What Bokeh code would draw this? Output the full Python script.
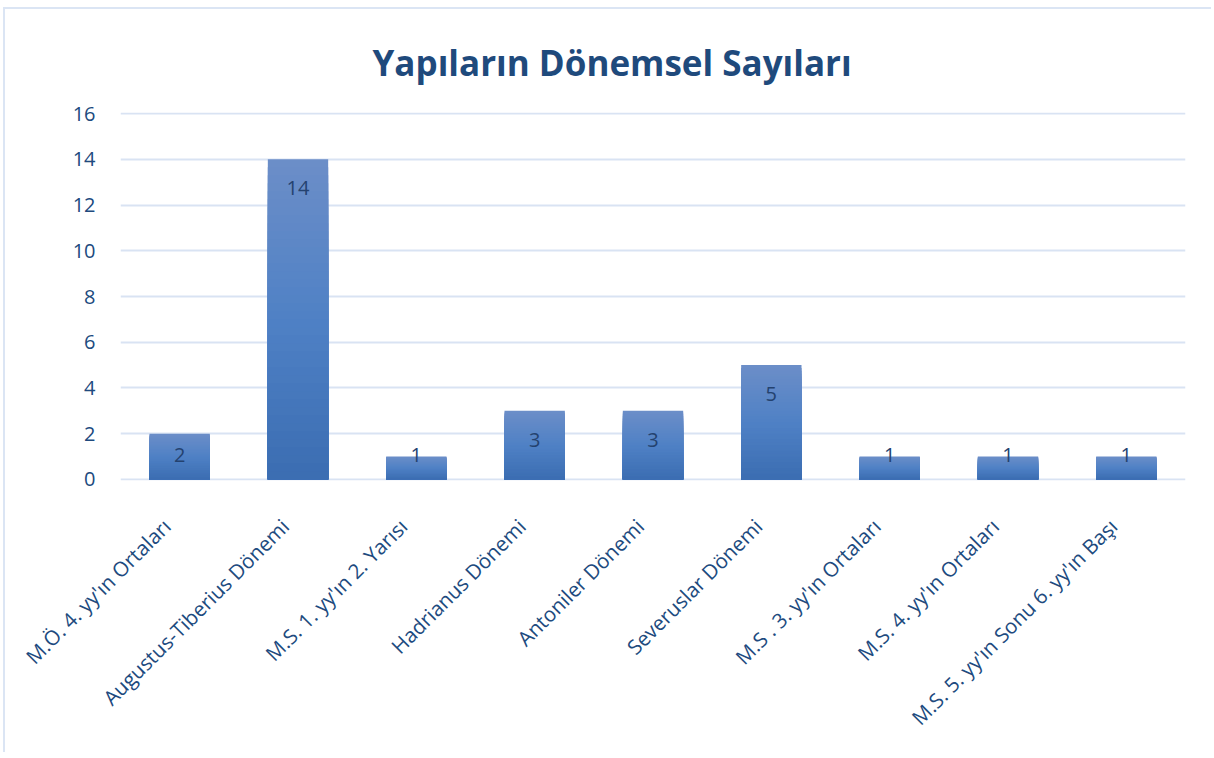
import numpy as np
from bokeh.plotting import figure
from bokeh.models import Range1d, FixedTicker
from bokeh.embed import file_html
from bokeh.resources import INLINE
from bokeh.core.properties import value

# ---- data ----
categories = [
    "M.Ö. 4. yy'ın Ortaları",
    "Augustus-Tiberius Dönemi",
    "M.S. 1. yy'ın 2. Yarısı",
    "Hadrianus Dönemi",
    "Antoniler Dönemi",
    "Severuslar Dönemi",
    "M.S . 3. yy'ın Ortaları",
    "M.S. 4. yy'ın Ortaları",
    "M.S. 5. yy'ın Sonu 6. yy'ın Başı",
]
counts = [2, 14, 1, 3, 3, 5, 1, 1, 1]
y_ticks = [0, 2, 4, 6, 8, 10, 12, 14, 16]
title_text = "Yapıların Dönemsel Sayıları"

FONT = "Open Sans"
TEXT = "#204a7e"

n = len(categories)
xpos = np.arange(n) + 0.5          # bar centres
label_shift = 0.11                 # rotated labels sit slightly left of the bar centre

p = figure(
    width=1208, height=745,
    x_range=Range1d(0, n),
    y_range=Range1d(-0.05, 16.05),
    output_backend="svg", toolbar_location=None,
    min_border_left=115, min_border_right=28,
    min_border_top=103, min_border_bottom=274,
)
p.outline_line_color = None
p.background_fill_color = "white"
p.border_fill_color = "white"
p.styles = {"margin-left": "3px", "margin-top": "7px",
            "border-left": "2px solid #dbe5f4", "border-top": "2px solid #dbe5f4"}

# gradient bars: overlapping layers, full bar (light top) first, shorter darker layers on top
vals = np.array(counts, dtype=float)
stops = [(0.0, (59, 109, 178)), (0.5, (79, 129, 197)), (1.0, (108, 142, 200))]

def grad(t):
    for (t0, c0), (t1, c1) in zip(stops[:-1], stops[1:]):
        if t <= t1:
            f = (t - t0) / (t1 - t0)
            return "#%02x%02x%02x" % tuple(int(round(a + (b - a) * f)) for a, b in zip(c0, c1))
    return "#%02x%02x%02x" % stops[-1][1]

N = 40
for k in range(N, 0, -1):
    t1 = k / N
    p.vbar(x=xpos, bottom=0, top=vals * t1, width=0.51,
           fill_color=grad(t1 - 0.5 / N), line_color=None)

# data labels (inside end, pushed up for short bars)
label_y = np.maximum(vals - 1.27, 1.05)
p.text(x=xpos, y=label_y, text=[str(c) for c in counts],
       text_align="center", text_baseline="middle",
       text_font=value(FONT), text_font_size="20px", text_color="#24426f")

# axes
p.yaxis.ticker = FixedTicker(ticks=y_ticks)
p.yaxis.axis_line_color = None
p.yaxis.major_tick_line_color = None
p.yaxis.minor_tick_line_color = None
p.yaxis.major_label_standoff = 19
p.yaxis.major_label_text_font = FONT
p.yaxis.major_label_text_font_size = "20px"
p.yaxis.major_label_text_color = TEXT

tick_pos = [float(x - label_shift) for x in xpos]
p.xaxis.ticker = FixedTicker(ticks=tick_pos)
p.xaxis.major_label_overrides = {t: c for t, c in zip(tick_pos, categories)}
p.xaxis.axis_line_color = None
p.xaxis.major_tick_line_color = None
p.xaxis.minor_tick_line_color = None
p.xaxis.major_label_orientation = np.pi / 4
p.xaxis.major_label_standoff = 36
p.xaxis.major_label_text_font = FONT
p.xaxis.major_label_text_font_size = "20.5px"
p.xaxis.major_label_text_color = TEXT

p.xgrid.grid_line_color = None
p.ygrid.grid_line_color = "#d9e3f3"
p.ygrid.grid_line_width = 2
p.ygrid.ticker = FixedTicker(ticks=y_ticks)

# title
p.title.text = title_text
p.title.align = "left"
p.title.offset = 252
p.title.standoff = 54
p.title.text_font = FONT
p.title.text_font_size = "35px"
p.title.text_font_style = "bold"
p.title.text_color = "#1f4a7c"

open("out.html", "w").write(file_html(p, INLINE))
